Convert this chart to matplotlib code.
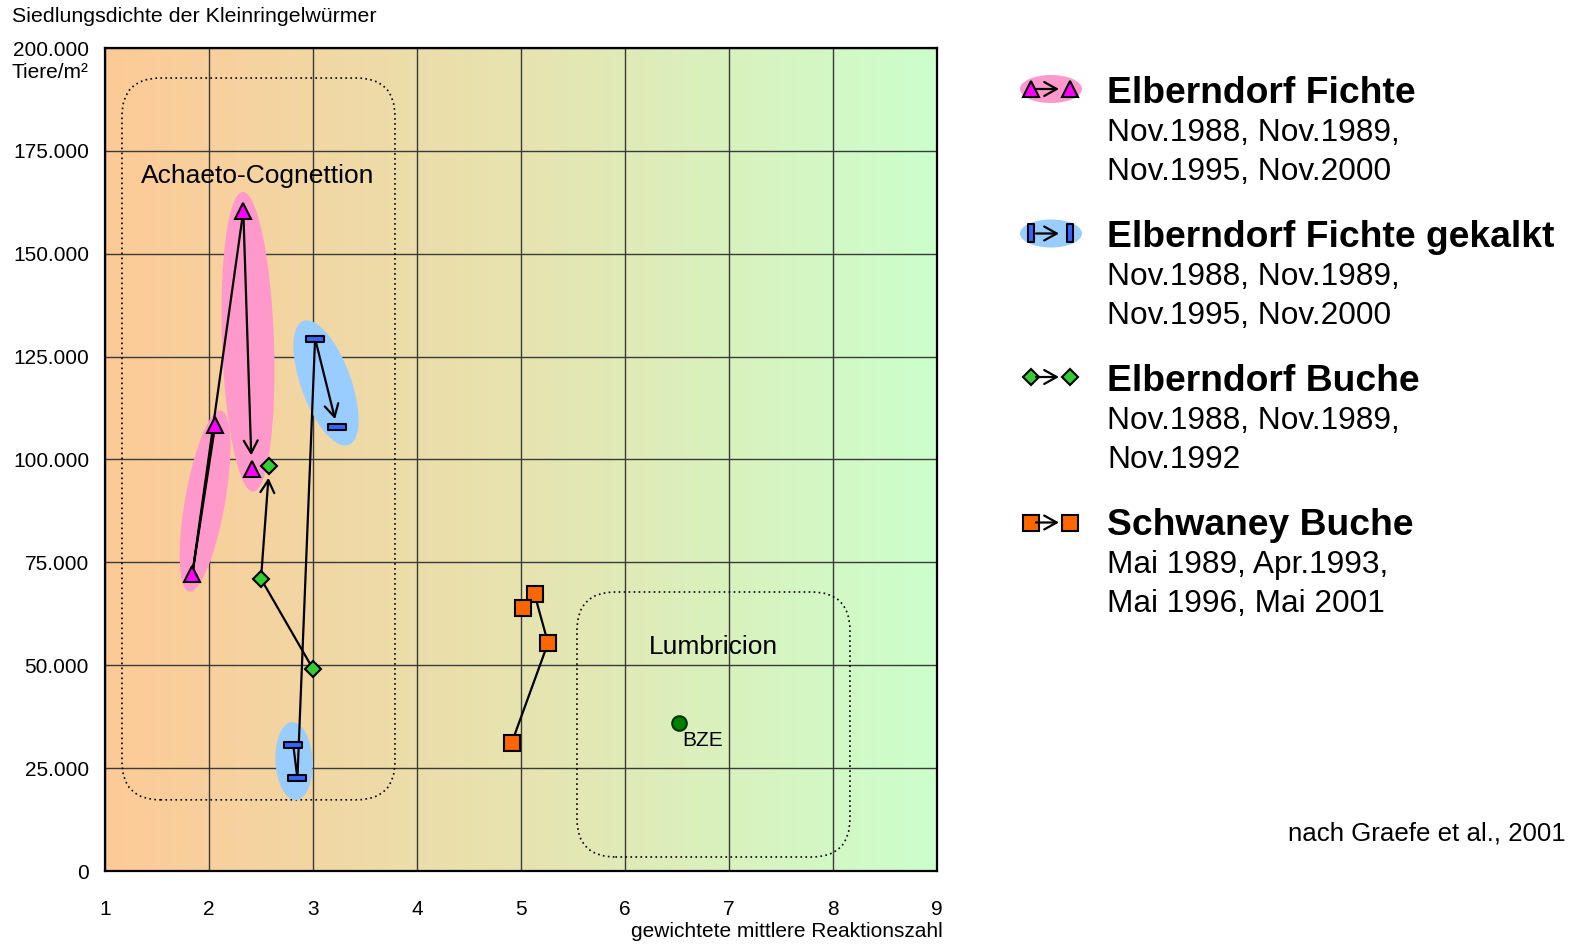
import numpy as np
import matplotlib.pyplot as plt
from matplotlib.patches import Ellipse, FancyBboxPatch
from matplotlib.path import Path
from matplotlib.transforms import Affine2D, ScaledTranslation
from matplotlib.colors import LinearSegmentedColormap

plt.rcParams['font.family'] = ['Liberation Sans', 'DejaVu Sans']

# Reaktionszahl (x) und Siedlungsdichte in Tiere/m² (y), in zeitlicher Reihenfolge
fichte_x = [2.06, 1.84, 2.33, 2.41]
fichte_y = [108400, 72200, 160400, 97800]
gekalkt_x = [2.81, 2.85, 3.02, 3.23]
gekalkt_y = [30700, 22500, 129400, 108000]
buche_x = [3.00, 2.50, 2.58]
buche_y = [49100, 71000, 98400]
schwaney_x = [4.91, 5.26, 5.13, 5.02]
schwaney_y = [31100, 55400, 67300, 63900]
bze_x = [6.52]
bze_y = [36000]

legend_titles = ['Elberndorf Fichte', 'Elberndorf Fichte gekalkt',
                 'Elberndorf Buche', 'Schwaney Buche']
legend_dates = [['Nov.1988, Nov.1989,', 'Nov.1995, Nov.2000'],
                ['Nov.1988, Nov.1989,', 'Nov.1995, Nov.2000'],
                ['Nov.1988, Nov.1989,', 'Nov.1992'],
                ['Mai 1989, Apr.1993,', 'Mai 1996, Mai 2001']]

x_ticks = list(range(1, 10))
y_ticks = list(range(0, 200001, 25000))

W, H = 1573, 946
fig = plt.figure(figsize=(W / 100, H / 100), dpi=100)
ax = fig.add_axes([105 / W, 1 - 871 / H, 832 / W, 823 / H])

# Hintergrund-Verlauf (sauer -> basisch)
grad = np.linspace(0, 1, 256).reshape(1, -1)
cmap = LinearSegmentedColormap.from_list('bg', ['#FDCA97', '#E6E4B0', '#CCFFCC'])
ax.imshow(grad, extent=[1, 9, 0, 200000], aspect='auto', cmap=cmap,
          zorder=0, interpolation='bicubic')

ax.set_xlim(1, 9)
ax.set_ylim(0, 200000)
ax.set_xticks(x_ticks)
ax.set_yticks(y_ticks)
ax.set_yticklabels([f"{v:,}".replace(',', '.') for v in y_ticks])
ax.tick_params(axis='both', length=0, labelsize=15)
ax.tick_params(axis='y', pad=11.5)
ax.tick_params(axis='x', pad=21)
ax.grid(True, color='#3a3a3a', lw=1)
ax.set_axisbelow(True)
for s in ax.spines.values():
    s.set_linewidth(1.6)
    s.set_color('black')

# Pixelgröße einer Dateneinheit (für runde Ecken)
px_x = 832 / 8
px_y = 823 / 200000
aspect = (1 / px_y) / (1 / px_x)


def pix_ellipse(x, y, w, h, angle, color):
    tr = Affine2D() + ScaledTranslation(x, y, ax.transData)
    ax.add_patch(Ellipse((0, 0), w, h, angle=angle, transform=tr,
                         facecolor=color, edgecolor='none', zorder=2))


# =========================================================
# Gestrichelte Bereiche (Gesellschaften)
# =========================================================
for (x0, x1, y0, y1) in [(1.163, 3.788, 17300, 192700), (5.538, 8.163, 3400, 67800)]:
    box = FancyBboxPatch((x0, y0), x1 - x0, y1 - y0,
                         boxstyle='round,pad=0,rounding_size=0.37',
                         mutation_aspect=aspect, facecolor='none',
                         edgecolor='black', lw=1.2, linestyle=(0, (1, 2)), zorder=2)
    ax.add_patch(box)
ax.text(2.47, 168900, 'Achaeto-Cognettion', fontsize=19, ha='center', va='center', zorder=5)
ax.text(6.85, 54400, 'Lumbricion', fontsize=19, ha='center', va='center', zorder=5)

# Ellipsen um die Aufnahmepaare
pix_ellipse(2.375, 128600, 52, 300, 2, '#FF99CC')
pix_ellipse(1.962, 89900, 40, 184, -10, '#FF99CC')
pix_ellipse(3.125, 118600, 50, 132, 20, '#99CCFF')
pix_ellipse(2.817, 26700, 37, 78, 3, '#99CCFF')

bar = Path([(-1, -0.28), (1, -0.28), (1, 0.28), (-1, 0.28), (-1, -0.28)],
           [Path.MOVETO, Path.LINETO, Path.LINETO, Path.LINETO, Path.CLOSEPOLY])
bar_v = Path([(-0.28, -1), (0.28, -1), (0.28, 1), (-0.28, 1), (-0.28, -1)],
             [Path.MOVETO, Path.LINETO, Path.LINETO, Path.LINETO, Path.CLOSEPOLY])

arrow_style = '->,head_length=0.45,head_width=0.25'


def draw_series(xs, ys, marker, ms, color, shrink, arrow=True):
    n = len(xs)
    last = n - 1 if arrow else n
    ax.plot(xs[:last], ys[:last], color='black', lw=1.6, zorder=3)
    if arrow:
        ax.annotate('', xy=(xs[-1], ys[-1]), xytext=(xs[-2], ys[-2]),
                    arrowprops=dict(arrowstyle=arrow_style, mutation_scale=20,
                                    lw=1.6, color='black', shrinkA=0, shrinkB=shrink),
                    zorder=3)
    ax.plot(xs, ys, linestyle='none', marker=marker, ms=ms, mfc=color,
            mec='black', mew=1.5, zorder=4)


draw_series(fichte_x, fichte_y, '^', 11.5, '#FF00FF', 9.5)
draw_series(gekalkt_x, gekalkt_y, bar, 13.5, '#3366FF', 5.5)
draw_series(buche_x, buche_y, 'D', 8, '#33CC33', 8.5)
draw_series(schwaney_x, schwaney_y, 's', 11, '#FF6600', 8, arrow=False)

ax.plot(bze_x, bze_y, linestyle='none', marker='o', ms=10.5, mfc='#008000',
        mec='#003300', mew=1.5, zorder=4)
ax.text(bze_x[0] + 0.03, bze_y[0] - 4200, 'BZE', fontsize=15, ha='left', va='center', zorder=5)

# Beschriftungen außerhalb
fig.text(12 / W, 1 - 17 / H, 'Siedlungsdichte der Kleinringelwürmer', fontsize=15.4,
         ha='left', va='center')
fig.text(12 / W, 1 - 73 / H, 'Tiere/m²', fontsize=15, ha='left', va='center')
fig.text(943 / W, 1 - 931 / H, 'gewichtete mittlere Reaktionszahl', fontsize=15,
         ha='right', va='center')
fig.text(1566 / W, 1 - 833 / H, 'nach Graefe et al., 2001', fontsize=18.6,
         ha='right', va='center')

# =========================================================
# Legende (Pixelkoordinaten)
# =========================================================
lax = fig.add_axes([0, 0, 1, 1])
lax.set_xlim(0, W)
lax.set_ylim(H, 0)
lax.axis('off')

icon_y = [89, 233.5, 377, 522.5]
icon_markers = [('^', 11.5, '#FF00FF', '#FF99CC'),
                (bar_v, 13.5, '#3366FF', '#99CCFF'),
                ('D', 8, '#33CC33', None),
                ('s', 11, '#FF6600', None)]
for i, (title, dates) in enumerate(zip(legend_titles, legend_dates)):
    yc = icon_y[i]
    mk, ms, col, ell = icon_markers[i]
    if ell:
        lax.add_patch(Ellipse((1051, yc), 62, 28, facecolor=ell, edgecolor='none'))
    lax.annotate('', xy=(1059, yc), xytext=(1036, yc),
                 arrowprops=dict(arrowstyle=arrow_style, mutation_scale=20, lw=1.6,
                                 color='black', shrinkA=0, shrinkB=0))
    lax.plot([1031, 1070], [yc, yc], linestyle='none', marker=mk, ms=ms, mfc=col,
             mec='black', mew=1.5)
    base = 103 + 144 * i
    lax.text(1107, base, title, fontsize=26.8, fontweight='bold', ha='left', va='baseline')
    for j, d in enumerate(dates):
        lax.text(1107, base + 38 + 38.5 * j, d, fontsize=22.8, ha='left', va='baseline')

fig.savefig('out.png', dpi=100)
